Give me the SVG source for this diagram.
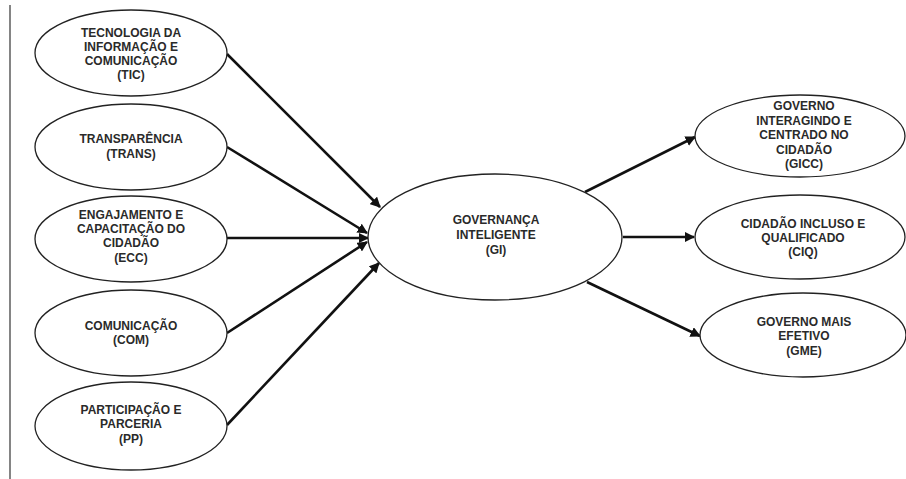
<svg xmlns="http://www.w3.org/2000/svg" width="906" height="479" viewBox="0 0 906 479">
<style>
.n{fill:#fff;stroke:#222;stroke-width:1.3}
.t{font-family:"Liberation Sans",Arial,sans-serif;font-weight:bold;font-size:12px;fill:#2a2a2a;text-anchor:middle}
.c{stroke:#111;stroke-width:2.6;fill:none;marker-end:url(#a)}
</style>
<defs>
<marker id="a" viewBox="0 0 10 10" refX="9" refY="5" markerWidth="4" markerHeight="4" orient="auto" markerUnits="strokeWidth">
<path d="M0,0 L10,5 L0,10 z" fill="#111"/>
</marker>
</defs>
<rect width="906" height="479" fill="#fff"/>
<line x1="10" y1="5" x2="10" y2="479" stroke="#333" stroke-width="1.2"/>
<g id="edges">
<line class="c" x1="227" y1="54" x2="380" y2="207"/>
<line class="c" x1="227" y1="147" x2="367" y2="233"/>
<line class="c" x1="227" y1="238" x2="368" y2="238"/>
<line class="c" x1="227" y1="333" x2="367" y2="242"/>
<line class="c" x1="227" y1="425" x2="379" y2="263"/>
<line class="c" x1="585" y1="192" x2="695" y2="137"/>
<line class="c" x1="623" y1="237" x2="694" y2="237"/>
<line class="c" x1="587" y1="282" x2="700" y2="336"/>
</g>
<g id="TIC"><ellipse class="n" cx="131" cy="53" rx="96" ry="43"/>
<text class="t" x="131" y="37">TECNOLOGIA DA</text><text class="t" x="131" y="51">INFORMAÇÃO E</text><text class="t" x="131" y="65">COMUNICAÇÃO</text><text class="t" x="131" y="79">(TIC)</text></g>
<g id="TRANS"><ellipse class="n" cx="131" cy="147" rx="96" ry="43"/>
<text class="t" x="131" y="143">TRANSPARÊNCIA</text><text class="t" x="131" y="158">(TRANS)</text></g>
<g id="ECC"><ellipse class="n" cx="131" cy="239" rx="96" ry="43"/>
<text class="t" x="131" y="219">ENGAJAMENTO E</text><text class="t" x="131" y="233">CAPACITAÇÃO DO</text><text class="t" x="131" y="247">CIDADÃO</text><text class="t" x="131" y="262">(ECC)</text></g>
<g id="COM"><ellipse class="n" cx="131" cy="333" rx="96" ry="43"/>
<text class="t" x="131" y="330">COMUNICAÇÃO</text><text class="t" x="131" y="344">(COM)</text></g>
<g id="PP"><ellipse class="n" cx="131" cy="426" rx="96" ry="44"/>
<text class="t" x="131" y="414">PARTICIPAÇÃO E</text><text class="t" x="131" y="428">PARCERIA</text><text class="t" x="131" y="443">(PP)</text></g>
<g id="GI"><ellipse class="n" cx="495" cy="237" rx="127" ry="63"/>
<text class="t" x="496" y="224">GOVERNANÇA</text><text class="t" x="496" y="239">INTELIGENTE</text><text class="t" x="496" y="254">(GI)</text></g>
<g id="GICC"><ellipse class="n" cx="800" cy="136" rx="105" ry="41"/>
<text class="t" x="804" y="110">GOVERNO</text><text class="t" x="804" y="125">INTERAGINDO E</text><text class="t" x="804" y="139">CENTRADO NO</text><text class="t" x="804" y="154">CIDADÃO</text><text class="t" x="804" y="168">(GICC)</text></g>
<g id="CIQ"><ellipse class="n" cx="800" cy="237" rx="105" ry="42"/>
<text class="t" x="803" y="228">CIDADÃO INCLUSO E</text><text class="t" x="803" y="242">QUALIFICADO</text><text class="t" x="803" y="256">(CIQ)</text></g>
<g id="GME"><ellipse class="n" cx="803" cy="335" rx="103" ry="42"/>
<text class="t" x="804" y="326">GOVERNO MAIS</text><text class="t" x="804" y="340">EFETIVO</text><text class="t" x="804" y="355">(GME)</text></g>
</svg>
